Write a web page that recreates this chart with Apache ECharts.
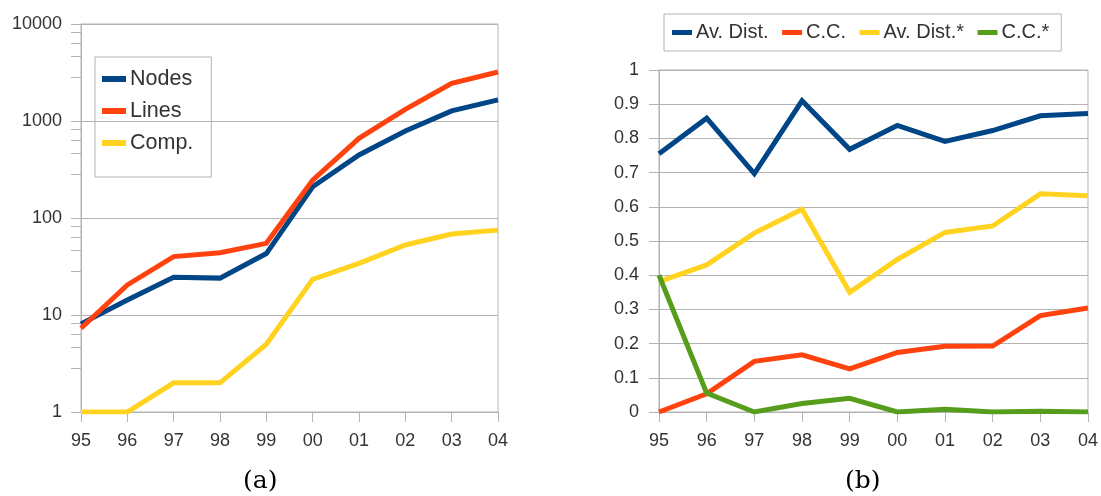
<!DOCTYPE html>
<html><head><meta charset="utf-8">
<script src="https://cdn.jsdelivr.net/npm/echarts@6/dist/echarts.min.js"></script>
<style>html,body{margin:0;padding:0;background:#fff}#c{width:1101px;height:496px}</style>
</head><body><div id="c"></div>
<script>
const years = ['95','96','97','98','99','00','01','02','03','04'];
const nodes = [8.1, 14.3, 24.5, 24, 43, 210, 446, 790, 1270, 1650];
const lines = [7.3, 20.4, 40, 43.9, 54.8, 246, 663, 1320, 2450, 3200];
const comp  = [1, 1, 2, 2, 5, 23.3, 34, 52.7, 68.4, 75];
const avDist     = [0.755, 0.859, 0.697, 0.910, 0.768, 0.838, 0.791, 0.823, 0.866, 0.873];
const cc         = [0.0, 0.053, 0.148, 0.167, 0.126, 0.174, 0.192, 0.193, 0.282, 0.304];
const avDistStar = [0.381, 0.430, 0.523, 0.593, 0.350, 0.446, 0.525, 0.544, 0.638, 0.632];
const ccStar     = [0.400, 0.055, 0.0, 0.025, 0.040, 0.0, 0.008, 0.0, 0.002, 0.0];
const leftTicks = [1, 10, 100, 1000, 10000];
const rightTicks = [0, 0.1, 0.2, 0.3, 0.4, 0.5, 0.6, 0.7, 0.8, 0.9, 1];

const C = {blue:'#004586', red:'#ff420e', yellow:'#ffd320', green:'#579d1c'};
const grey = '#b3b3b3';
const txt = '#333333';
const font = 'Liberation Sans';

const chart = echarts.init(document.getElementById('c'), null, {renderer:'canvas'});
function xAxis(gi){
  return {type:'category', gridIndex:gi, data:years, boundaryGap:false,
    axisLine:{show:true, lineStyle:{color:grey}},
    axisTick:{show:true, length:10, lineStyle:{color:grey}, interval:0},
    axisLabel:{color:txt, fontFamily:font, fontSize:18, margin:20, interval:0},
    splitLine:{show:false}};
}
function ln(name, data, color, xi, yi){
  return {name, type:'line', data, xAxisIndex:xi, yAxisIndex:yi, symbol:'none', smooth:false,
    lineStyle:{color, width:5, join:'miter'}, itemStyle:{color}, emphasis:{disabled:true}};
}
chart.setOption({
  animation:false,
  textStyle:{fontFamily:font},
  grid:[
    {left:81, top:24, width:417, height:388, show:true, borderColor:grey, borderWidth:1},
    {left:659, top:70, width:429, height:342, show:true, borderColor:grey, borderWidth:1}
  ],
  xAxis:[xAxis(0), xAxis(1)],
  yAxis:[
    {type:'log', gridIndex:0, logBase:10, min:leftTicks[0], max:leftTicks[leftTicks.length-1],
      axisLine:{show:true, lineStyle:{color:grey}},
      axisTick:{show:true, length:10, lineStyle:{color:grey}},
      minorTick:{show:true, splitNumber:5, length:10, lineStyle:{color:grey}},
      axisLabel:{color:txt, fontFamily:font, fontSize:18, margin:19, formatter:v => String(v)},
      splitLine:{show:true, lineStyle:{color:grey, width:1}}},
    {type:'value', gridIndex:1, min:rightTicks[0], max:rightTicks[rightTicks.length-1], interval:0.1,
      axisLine:{show:true, lineStyle:{color:grey}},
      axisTick:{show:true, length:10, lineStyle:{color:grey}},
      axisLabel:{color:txt, fontFamily:font, fontSize:18, margin:20},
      splitLine:{show:true, lineStyle:{color:grey, width:1}}}
  ],
  legend:[
    {data:['Nodes','Lines','Comp.'], orient:'vertical', left:95, top:57,
      padding:[10,18,22,7], itemGap:8, itemWidth:24, itemHeight:6, icon:'rect',
      borderColor:grey, borderWidth:1, borderRadius:0,
      textStyle:{color:txt, fontFamily:font, fontSize:21.5, lineHeight:22, padding:[2,0,0,-1]}},
    {data:['Av. Dist.','C.C.','Av. Dist.*','C.C.*'], orient:'horizontal', left:664, top:14,
      padding:[8,12,8,8], itemGap:13.5, itemWidth:20, itemHeight:5, icon:'rect',
      borderColor:grey, borderWidth:1, borderRadius:0,
      textStyle:{color:txt, fontFamily:font, fontSize:20, lineHeight:20, padding:[1,0,0,-1]}}
  ],
  series:[
    ln('Nodes', nodes, C.blue, 0, 0),
    ln('Lines', lines, C.red, 0, 0),
    ln('Comp.', comp, C.yellow, 0, 0),
    ln('Av. Dist.', avDist, C.blue, 1, 1),
    ln('C.C.', cc, C.red, 1, 1),
    ln('Av. Dist.*', avDistStar, C.yellow, 1, 1),
    ln('C.C.*', ccStar, C.green, 1, 1)
  ],
  graphic:[
    {type:'text', left:243, top:469, style:{text:'(a)', font:'25px "DejaVu Serif"', fill:'#000'}},
    {type:'text', left:845, top:469, style:{text:'(b)', font:'25px "DejaVu Serif"', fill:'#000'}}
  ]
});
</script></body></html>
